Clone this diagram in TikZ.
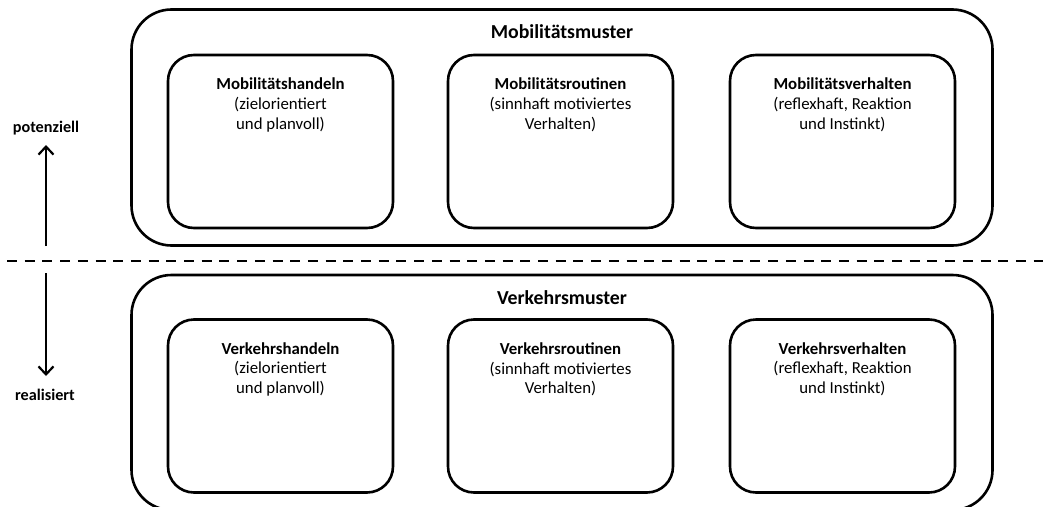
\documentclass[tikz,border=0pt]{standalone}
\usepackage{fontspec}
\setmainfont{Carlito}
\usetikzlibrary{arrows.meta}
\begin{document}
\begin{tikzpicture}[x=1pt,y=-1pt,
  outerbox/.style={draw,line width=2.6pt,rounded corners=40pt,inner sep=0pt,minimum width=861pt,minimum height=#1},
  innerbox/.style={draw,line width=2.6pt,rounded corners=26pt,inner sep=0pt,minimum width=225pt,minimum height=173pt},
  ttl/.style={font=\fontsize{19.8}{23}\selectfont\bfseries},
  desc/.style={align=center,font=\fontsize{16.8}{19.8}\selectfont,anchor=north,inner sep=0pt},
  side/.style={font=\fontsize{16.2}{19}\selectfont\bfseries},
  arr/.style={line width=2.2pt,-{Straight Barb[length=8pt,width=15pt]}},
  sep/.style={line width=2pt,dash pattern=on 10pt off 7.7pt}]
\useasboundingbox (0,0) rectangle (1043,506);
\clip (0,0) rectangle (1043,506);
% top group
\node[outerbox=236pt] (mm) at (562,127.5) {};
\node[ttl] (mmt) at (562,32) {Mobilitätsmuster};
\node[innerbox] (mh) at (280.5,141.5) {};
\node[innerbox] (mr) at (560.5,141.5) {};
\node[innerbox] (mv) at (842.5,141.5) {};
\node[desc] (mht) at ([yshift=-24pt]mh.north) {\textbf{Mobilitätshandeln}\\(zielorientiert\\und planvoll)};
\node[desc] (mrt) at ([yshift=-24pt]mr.north) {\textbf{Mobilitätsroutinen}\\(sinnhaft motiviertes\\Verhalten)};
\node[desc] (mvt) at ([yshift=-24pt]mv.north) {\textbf{Mobilitätsverhalten}\\(reflexhaft, Reaktion\\und Instinkt)};
% bottom group
\node[outerbox=235pt] (vm) at (562,392.5) {};
\node[ttl] (vmt) at (562,298) {Verkehrsmuster};
\node[innerbox] (vh) at (280.5,406) {};
\node[innerbox] (vr) at (560.5,406) {};
\node[innerbox] (vv) at (842.5,406) {};
\node[desc] (vht) at ([yshift=-24pt]vh.north) {\textbf{Verkehrshandeln}\\(zielorientiert\\und planvoll)};
\node[desc] (vrt) at ([yshift=-24pt]vr.north) {\textbf{Verkehrsroutinen}\\(sinnhaft motiviertes\\Verhalten)};
\node[desc] (vvt) at ([yshift=-24pt]vv.north) {\textbf{Verkehrsverhalten}\\(reflexhaft, Reaktion\\und Instinkt)};
% separator
\coordinate (sepL) at (7,261);
\coordinate (sepR) at (1043,261);
\draw[sep] (sepL) -- (sepR);
% side labels and arrows
\node[side] (pot) at (46,128) {potenziell};
\node[side] (real) at (45,395) {realisiert};
\coordinate (upS) at (46,246);
\coordinate (upE) at (46,145);
\coordinate (dnS) at (46,273);
\coordinate (dnE) at (46,376);
\draw[arr] (upS) -- (upE);
\draw[arr] (dnS) -- (dnE);
\end{tikzpicture}
\end{document}
